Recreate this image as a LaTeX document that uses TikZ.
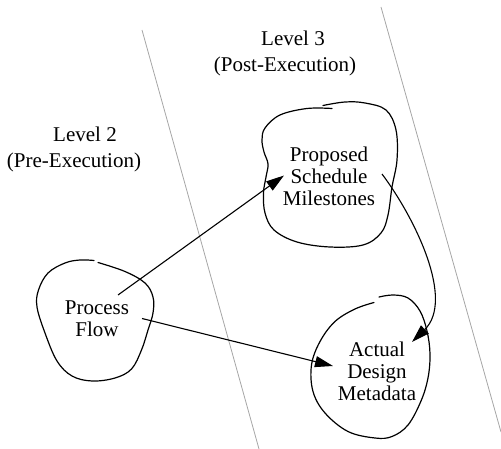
\documentclass[tikz,border=0pt]{standalone}
\usepackage{fontspec}
\setmainfont{Liberation Serif}
\usetikzlibrary{arrows.meta}
\begin{document}
\begin{tikzpicture}[x=1pt,y=-1pt,
  txt/.style={font=\fontsize{21}{22}\selectfont, inner sep=0pt, anchor=base, align=center},
  divider/.style={draw=black!35, line width=0.8pt},
  blob/.style={draw=black, line width=1.2pt, line cap=round},
  flow/.style={draw=black, line width=1.1pt, -{Triangle[length=18pt,width=11pt]}}]
\useasboundingbox (0,0) rectangle (501,449);

% level dividers
\coordinate (d1a) at (142,30);
\coordinate (d1b) at (259,449);
\coordinate (d2a) at (381,7);
\coordinate (d2b) at (501,432);
\draw[divider] (d1a) -- (d1b);
\draw[divider] (d2a) -- (d2b);

% level headings
\node[txt] (lv2a) at (85,142) {Level 2};
\node[txt] (lv2b) at (74,168) {(Pre-Execution)};
\node[txt] (lv3a) at (293,46) {Level 3};
\node[txt] (lv3b) at (285,72) {(Post-Execution)};

% blob outlines
\draw[blob] plot[smooth, tension=0.6] coordinates {
  (98,262.5) (125,271.5) (145,283) (153,297) (153,313) (148,330) (141.5,350)
  (131.5,369) (115,378) (92,381) (72,376) (57,361) (45,333) (37,307)
  (38.5,290) (48,273) (65,263) (80,260) (94,260.5)};
\draw[blob] plot[smooth, tension=0.6] coordinates {
  (323,105.5) (345,102) (365,103) (386,110) (396,130) (397,160) (392,187)
  (388,215) (381,233) (363,245) (330,247) (297,242) (274,230) (265,213)
  (263.5,193) (266,177) (268,164) (264,152) (262,140) (265,128) (280,115)
  (307,108.5) (332,108.5)};
\draw[blob] plot[smooth, tension=0.6] coordinates {
  (379,297) (393,295) (408,298) (420,311) (427,331) (430,354) (428,378)
  (421,401) (408,425) (392,436.5) (375,438) (348,431.5) (325,413)
  (313,391.5) (311.5,365) (320,341.5) (335,321.5) (355,309) (374,302.5)};

% blob labels (anchored on the baseline of the last line)
\node[txt] (pf) at (97,336) {Process\\Flow};
\node[txt] (psm) at (329,206) {Proposed\\Schedule\\Milestones};
\node[txt] (adm) at (377,400) {Actual\\Design\\Metadata};

% connector ends
\coordinate (pf-o1) at (118,295);
\coordinate (pf-o2) at (142,318.5);
\coordinate (psm-i) at (284,175.5);
\coordinate (psm-o) at (382,174);
\coordinate (adm-i1) at (333,366);
\coordinate (adm-i2) at (412,342);

\draw[flow] (pf-o1) -- (psm-i);
\draw[flow] (pf-o2) -- (adm-i1);
\draw[flow] (psm-o) .. controls (415,218) and (455,300) .. (adm-i2);
\end{tikzpicture}
\end{document}
